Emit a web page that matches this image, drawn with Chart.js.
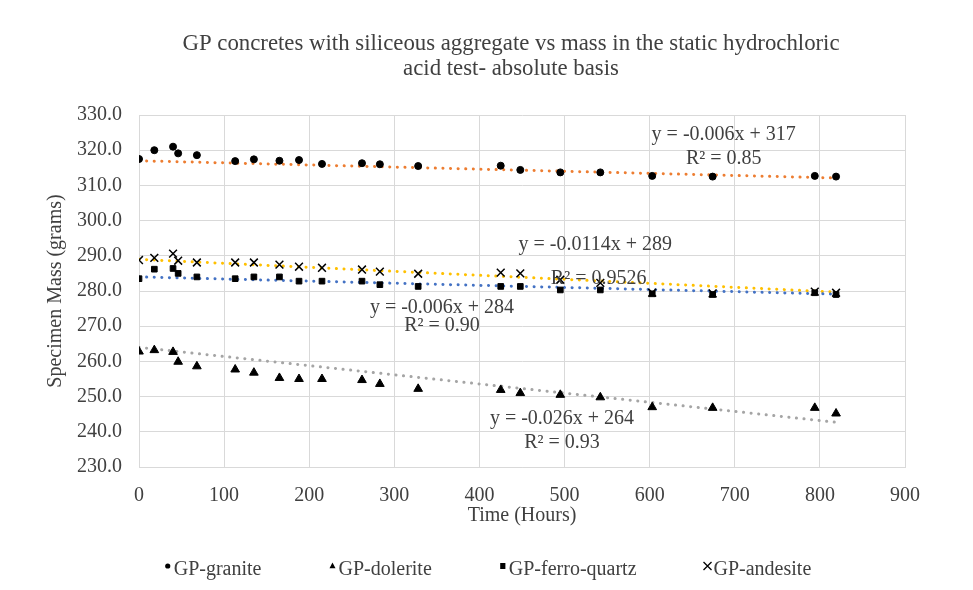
<!DOCTYPE html>
<html>
<head>
<meta charset="utf-8">
<script src="https://cdn.jsdelivr.net/npm/chart.js@4.4.1/dist/chart.umd.min.js"></script>
<style>
  html, body { margin: 0; padding: 0; background: #fff; }
  #wrap { width: 973px; height: 590px; position: relative; }
</style>
</head>
<body>
<div id="wrap"><canvas id="massChart" width="973" height="590"></canvas></div>
<script>
// ===== data =====
const titleLines = [
    "GP concretes with siliceous aggregate vs mass in the static hydrochloric",
    "acid test- absolute basis"
];
const hours = [0, 18, 40, 46, 68, 113, 135, 165, 188, 215, 262, 283, 328, 425, 448, 495, 542, 603, 674, 794, 819];
const granite   = [317.5, 320.0, 321.0, 319.1, 318.6, 316.9, 317.4, 317.0, 317.2, 316.1, 316.3, 316.0, 315.5, 315.6, 314.4, 313.7, 313.7, 312.7, 312.5, 312.7, 312.5];
const dolerite  = [262.8, 263.2, 262.7, 259.9, 258.6, 257.7, 256.8, 255.3, 255.0, 255.0, 254.7, 253.6, 252.2, 251.9, 251.0, 250.5, 249.8, 247.0, 246.8, 246.8, 245.2];
const ferro     = [283.5, 286.2, 286.4, 285.0, 284.0, 283.5, 284.0, 284.0, 282.8, 282.8, 282.8, 281.8, 281.3, 281.3, 281.3, 280.3, 280.3, 279.2, 279.0, 279.5, 279.0];
const andesite  = [288.8, 289.4, 290.6, 288.6, 288.1, 288.1, 288.1, 287.5, 286.9, 286.6, 286.1, 285.5, 284.9, 285.2, 285.0, 283.2, 282.3, 279.5, 279.3, 279.8, 279.5];

// trendline end points (x = 0 and x = 819)
const trendX        = [0, 819];
const trendGranite  = [317.0, 312.1];
const trendDolerite = [264.0, 242.7];
const trendFerro    = [284.0, 279.1];
const trendAndesite = [289.0, 279.7];

// equation labels: text, x, y (data units)
const eqText = ["y = -0.006x + 317", "R\u00b2 = 0.85",
                "y = -0.0114x + 289", "R\u00b2 = 0.9526",
                "y = -0.006x + 284", "R\u00b2 = 0.90",
                "y = -0.026x + 264", "R\u00b2 = 0.93"];
const eqX = [687, 687, 536, 540, 356, 356, 497, 497];
const eqY = [324.3, 317.5, 293.0, 283.6, 275.1, 270.0, 243.8, 236.8];

const xTicks = [0, 100, 200, 300, 400, 500, 600, 700, 800, 900];
const yTicks = [230, 240, 250, 260, 270, 280, 290, 300, 310, 320, 330];

// ===== helpers =====
function pts(xs, ys) {
    return xs.map((x, i) => ({ x: x, y: ys[i] }));
}

function trend(label, ys, color) {
    return {
        label: label,
        data: pts(trendX, ys),
        showLine: true,
        borderColor: color,
        borderWidth: 3,
        borderDash: [0.1, 7.5],
        borderCapStyle: "round",
        pointRadius: 0,
        fill: false,
        order: 2
    };
}

const serif = "'Liberation Serif', 'Times New Roman', serif";
const textColor = "#404040";

// legend marker drawn small, like the spreadsheet legend
function drawMarker(ctx, style, x, y) {
    ctx.fillStyle = "#000";
    ctx.strokeStyle = "#000";
    ctx.lineWidth = 1.3;
    ctx.beginPath();
    if (style === "circle") {
        ctx.arc(x, y, 2.6, 0, Math.PI * 2);
        ctx.fill();
    } else if (style === "triangle") {
        ctx.moveTo(x, y - 3.5);
        ctx.lineTo(x + 3, y + 2.2);
        ctx.lineTo(x - 3, y + 2.2);
        ctx.closePath();
        ctx.fill();
    } else if (style === "rect") {
        ctx.rect(x - 2.6, y - 3, 5.2, 6);
        ctx.fill();
    } else {
        ctx.moveTo(x - 4, y - 4); ctx.lineTo(x + 4, y + 4);
        ctx.moveTo(x + 4, y - 4); ctx.lineTo(x - 4, y + 4);
        ctx.stroke();
    }
}

// draws the title, the trendline equations and the legend
const textPlugin = {
    id: "textPlugin",
    afterDatasetsDraw(chart) {
        const ctx = chart.ctx;
        const xs = chart.scales.x, ys = chart.scales.y;
        const a = chart.chartArea;
        ctx.save();
        ctx.fillStyle = textColor;
        ctx.textAlign = "center";
        ctx.textBaseline = "middle";
        ctx.font = "20px " + serif;
        for (let i = 0; i < eqText.length; i++) {
            ctx.fillText(eqText[i], xs.getPixelForValue(eqX[i]), ys.getPixelForValue(eqY[i]));
        }

        // title
        const cx = (a.left + a.right) / 2 - 11;
        ctx.font = "22.8px " + serif;
        ctx.fillText(titleLines[0], cx, 44);
        ctx.fillText(titleLines[1], cx, 69);

        // legend (point datasets only)
        const items = chart.data.datasets.filter(d => !d.label.startsWith("trend"));
        ctx.font = "20px " + serif;
        const markW = 9, gap = 68;
        const widths = items.map(d => markW + ctx.measureText(d.label).width);
        const total = widths.reduce((s, w) => s + w, 0) + gap * (items.length - 1);
        let x = 488 - total / 2;
        const ly = 570;
        ctx.textAlign = "left";
        items.forEach((d, i) => {
            drawMarker(ctx, d.pointStyle, x + 3, ly - 4);
            ctx.fillStyle = textColor;
            ctx.fillText(d.label, x + markW, ly);
            x += widths[i] + gap;
        });
        ctx.restore();
    }
};

const ctx = document.getElementById("massChart").getContext("2d");
window.massChart = new Chart(ctx, {
    type: "scatter",
    data: {
        datasets: [
            {
                label: "GP-granite",
                data: pts(hours, granite),
                pointStyle: "circle",
                pointRadius: 3.5,
                backgroundColor: "#000",
                borderColor: "#000",
                borderWidth: 1,
                order: 1
            },
            {
                label: "GP-dolerite",
                data: pts(hours, dolerite),
                pointStyle: "triangle",
                pointRadius: 5,
                backgroundColor: "#000",
                borderColor: "#000",
                borderWidth: 1,
                order: 1
            },
            {
                label: "GP-ferro-quartz",
                data: pts(hours, ferro),
                pointStyle: "rect",
                pointRadius: 4,
                backgroundColor: "#000",
                borderColor: "#000",
                borderWidth: 1,
                order: 1
            },
            {
                label: "GP-andesite",
                data: pts(hours, andesite),
                pointStyle: "crossRot",
                pointRadius: 5.5,
                backgroundColor: "#000",
                borderColor: "#000",
                borderWidth: 1.5,
                order: 1
            },
            trend("trend-granite", trendGranite, "#ED7D31"),
            trend("trend-dolerite", trendDolerite, "#A5A5A5"),
            trend("trend-ferro", trendFerro, "#4472C4"),
            trend("trend-andesite", trendAndesite, "#FFC000")
        ]
    },
    options: {
        responsive: false,
        animation: false,
        layout: {
            padding: { left: 44, right: 68, top: 115, bottom: 62 }
        },
        plugins: {
            tooltip: { enabled: false },
            title: { display: false },
            legend: { display: false }
        },
        scales: {
            x: {
                type: "linear",
                min: 0,
                max: 900,
                afterBuildTicks: axis => { axis.ticks = xTicks.map(v => ({ value: v })); },
                grid: { color: "#D9D9D9", drawTicks: false },
                border: { color: "#D9D9D9" },
                ticks: {
                    padding: 17,
                    color: textColor,
                    font: { family: serif, size: 20 }
                },
                title: {
                    display: true,
                    text: "Time (Hours)",
                    color: textColor,
                    font: { family: serif, size: 20 },
                    padding: { top: -21, bottom: 0 }
                }
            },
            y: {
                type: "linear",
                min: 230,
                max: 330,
                afterBuildTicks: axis => { axis.ticks = yTicks.map(v => ({ value: v })); },
                grid: { color: "#D9D9D9", drawTicks: false },
                border: { color: "#D9D9D9" },
                ticks: {
                    padding: 17,
                    color: textColor,
                    font: { family: serif, size: 20 },
                    callback: v => v.toFixed(1)
                },
                title: {
                    display: true,
                    text: "Specimen Mass (grams)",
                    color: textColor,
                    font: { family: serif, size: 20 },
                    padding: { top: 0, bottom: -8 }
                }
            }
        }
    },
    plugins: [textPlugin]
});
</script>
</body>
</html>
